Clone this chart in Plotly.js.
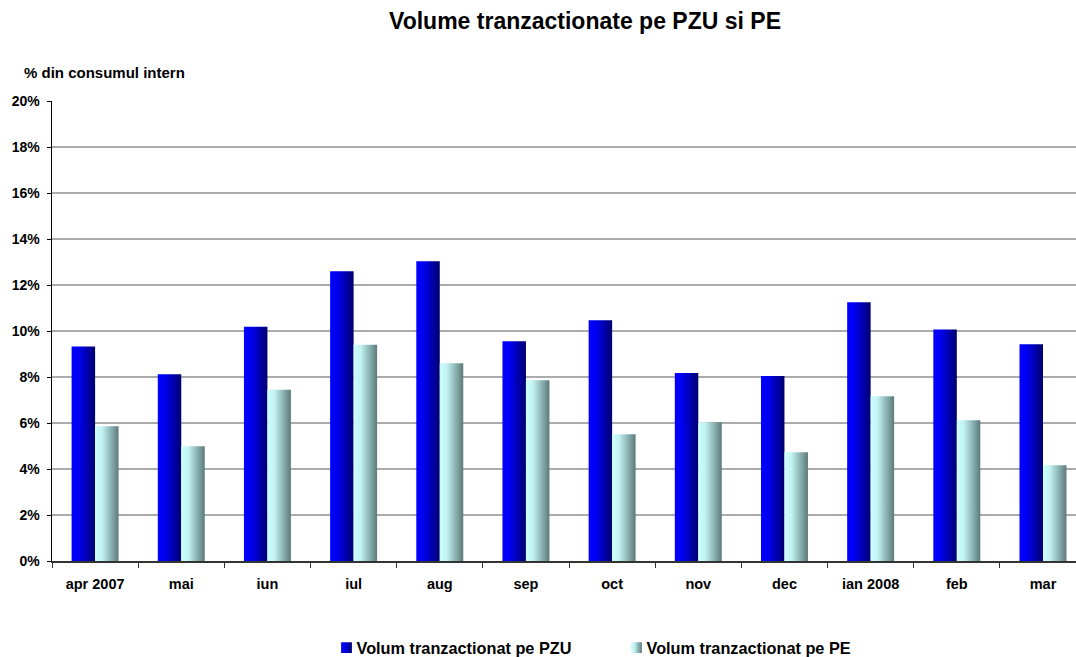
<!DOCTYPE html>
<html><head><meta charset="utf-8">
<script src="https://cdn.plot.ly/plotly-3.0.1.min.js"></script>
<style>html,body{margin:0;padding:0;background:#fff;} #chart{width:1076px;height:657px;}</style>
</head><body><div id="chart"></div>
<script>
const categories = ['apr 2007','mai','iun','iul','aug','sep','oct','nov','dec','ian 2008','feb','mar'];
const pzuValues = [9.33, 8.12, 10.18, 12.6, 13.03, 9.55, 10.47, 8.17, 8.04, 11.25, 10.07, 9.42];
const peValues  = [5.86, 4.99, 7.45, 9.4, 8.6, 7.86, 5.51, 6.03, 4.73, 7.16, 6.12, 4.16];
const yTickValues = [0, 2, 4, 6, 8, 10, 12, 14, 16, 18, 20];
const yTickLabels = ['0%','2%','4%','6%','8%','10%','12%','14%','16%','18%','20%'];
const pzuName = 'Volum tranzactionat pe PZU';
const peName = 'Volum tranzactionat pe PE';
const chartTitle = 'Volume tranzactionate pe PZU si PE';
const yTitle = '% din consumul intern';

const FONT = 'Arial, "Liberation Sans", sans-serif';

const traces = [
  {type:'bar', name:pzuName, x:categories, y:pzuValues, marker:{color:'#0000d0', line:{width:0}}, hoverinfo:'none'},
  {type:'bar', name:peName, x:categories, y:peValues, marker:{color:'#a0d0d0', line:{width:0}}, hoverinfo:'none'}
];

const layout = {
  width:1076, height:657,
  paper_bgcolor:'#ffffff', plot_bgcolor:'#ffffff',
  margin:{l:52, r:0, t:101, b:96, autoexpand:false},
  barmode:'group', bargap:0.455, bargroupgap:0,
  font:{family:FONT, size:14, color:'#000', weight:'bold'},
  title:{text:chartTitle, font:{family:FONT, size:23, color:'#000', weight:'bold'},
         x:0.5437, xref:'container', xanchor:'center', y:0.968, yref:'container', yanchor:'middle'},
  xaxis:{type:'category', range:[-0.5, 11.383], showline:true, linecolor:'#333', linewidth:1.5,
         ticks:'outside', tickson:'boundaries', ticklen:5, tickcolor:'#333', tickwidth:1,
         showgrid:false, zeroline:false, automargin:false, fixedrange:true,
         tickfont:{family:FONT, size:14.5, color:'#000', weight:'bold'}, ticklabelstandoff:9},
  yaxis:{range:[0,20], tickvals:yTickValues, ticktext:yTickLabels, showline:true, linecolor:'#000', linewidth:1.5,
         ticks:'outside', ticklen:4, tickcolor:'#000', tickwidth:1,
         showgrid:true, gridcolor:'#ababab', gridwidth:1.2, zeroline:false, automargin:false, fixedrange:true,
         tickfont:{family:FONT, size:14, color:'#000', weight:'bold'}, ticklabelstandoff:4},
  showlegend:true,
  legend:{orientation:'h', x:0.2583, xanchor:'left', xref:'paper', y:0.0137, yref:'container', yanchor:'middle',
          font:{family:FONT, size:16.3, color:'#000', weight:'bold'}, bgcolor:'rgba(0,0,0,0)', entrywidth:245, entrywidthmode:'pixels'},
  annotations:[
    {text:yTitle, xref:'paper', yref:'paper', x:-0.029, y:1.0609, xanchor:'left', yanchor:'middle', showarrow:false,
     font:{family:FONT, size:15, color:'#000', weight:'bold'}}
  ]
};

Plotly.newPlot('chart', traces, layout, {staticPlot:true, displayModeBar:false}).then(function(gd){
  const svg = gd.querySelector('svg.main-svg');
  const ns = 'http://www.w3.org/2000/svg';
  let defs = svg.querySelector('defs');
  if(!defs){ defs = document.createElementNS(ns,'defs'); svg.insertBefore(defs, svg.firstChild); }
  function addGrad(id, stops){
    const g = document.createElementNS(ns,'linearGradient');
    g.setAttribute('id', id); g.setAttribute('x1','0'); g.setAttribute('x2','1'); g.setAttribute('y1','0'); g.setAttribute('y2','0');
    stops.forEach(function(s){ const st = document.createElementNS(ns,'stop'); st.setAttribute('offset', s[0]); st.setAttribute('stop-color', s[1]); g.appendChild(st); });
    defs.appendChild(g);
  }
  addGrad('gradPZU', [['0','#0000ff'],['0.3','#0000f2'],['1','#000070']]);
  addGrad('gradPE', [['0','#ccffff'],['0.3','#c2f2f2'],['1','#5c7a7a']]);
  const ids = ['gradPZU','gradPE'];
  gd.querySelectorAll('.barlayer .trace').forEach(function(t, i){
    t.querySelectorAll('path').forEach(function(p){ p.style.fill = 'url(#'+ids[i]+')'; });
  });
  gd.querySelectorAll('.legend .traces').forEach(function(t, i){
    const lp = t.querySelector('.legendpoints');
    if(lp) lp.setAttribute('transform', 'translate(10,0)');
    t.querySelectorAll('.legendpoints path').forEach(function(p){
      p.style.fill = 'url(#'+ids[i]+')'; p.style.stroke='none';
      p.setAttribute('d', 'M5.4,5.4H-5.4V-5.4H5.4Z');
    });
  });
});
</script>
</body></html>
